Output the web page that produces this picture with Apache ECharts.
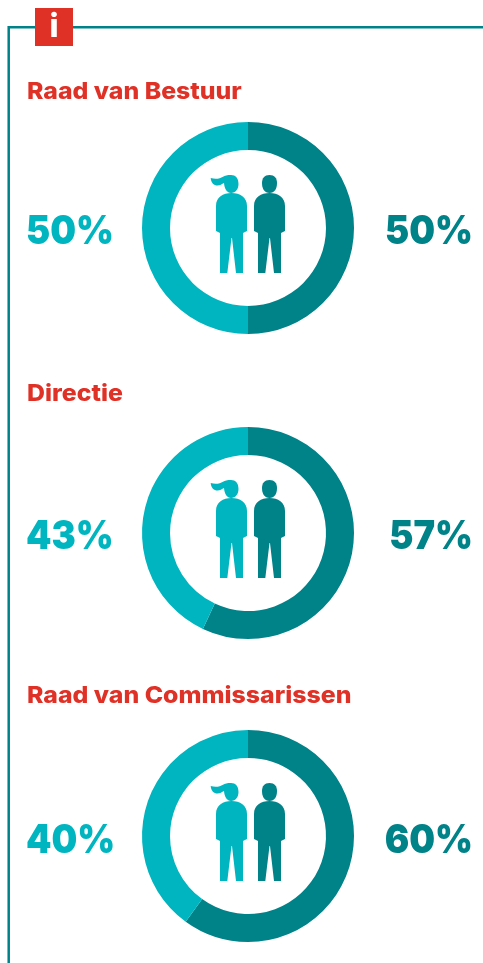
<!DOCTYPE html>
<html><head><meta charset="utf-8">
<style>html,body{margin:0;padding:0;background:#fff}#c{width:483px;height:963px}</style>
<script src="https://cdn.jsdelivr.net/npm/echarts@6/dist/echarts.min.js"></script>
</head><body><div id="c"></div>
<script>
const titles = ['Raad van Bestuur', 'Directie', 'Raad van Commissarissen'];
const women = [50, 43, 40];
const men = [50, 57, 60];
const LIGHT = '#00B5BF', DARK = '#008289', RED = '#E03127', FONT = 'Inter';
const cy = [228, 533, 836], titleY = [92, 394, 696], iconY = [175, 480, 783], pctY = [232.5, 537.5, 841];
const body = 'M0 56 L0 31 C0 22 7 18 15.5 18 C24 18 31 22 31 31 L31 56 L27 58 L27 98 L20 98 L16 63 L15.5 63 L11.3 98 L4 98 L4 58 Z';
const womanHead = 'M15 0 C11 0 9 .7 7 1.7 C4 3.5 0 4.5 -5.3 3 C-5 8 -2 10.5 1.5 10.5 C4 10.5 6 9 8 8 C8.5 14 11 17.9 15 17.9 C19.8 17.9 22.5 14 22.5 9 C22.5 3 19.5 0 15 0 Z';
const manHead = 'M15.5 0 C10.5 0 8 3 8 8 C8 14 10.5 17.9 15.5 17.9 C20.5 17.9 23 14 23 8 C23 3 20.5 0 15.5 0 Z';
echarts.graphic.registerShape('personBody', echarts.graphic.extendPath(body, {}));
echarts.graphic.registerShape('womanHead', echarts.graphic.extendPath(womanHead, {}));
echarts.graphic.registerShape('manHead', echarts.graphic.extendPath(manHead, {}));
const chart = echarts.init(document.getElementById('c'), null, {renderer: 'canvas'});
const series = [], graphic = [
  {type:'polyline', silent:true, shape:{points:[[8.7,963],[8.7,27.2],[483,27.2]]}, style:{stroke:DARK, lineWidth:2.5, fill:null}},
  {type:'rect', shape:{x:35,y:8,width:38,height:38}, style:{fill:RED}, z:5},
  {type:'text', x:54, y:27, z:6, style:{text:'i', fill:'#fff', font:'800 32px '+FONT, align:'center', verticalAlign:'middle'}}
];
titles.forEach((t,i)=>{
  series.push({type:'pie', silent:true, center:[248,cy[i]], radius:[78,106], startAngle:90, clockwise:true,
    label:{show:false}, labelLine:{show:false}, itemStyle:{borderWidth:0},
    data:[{name:'Mannen', value:men[i], itemStyle:{color:DARK}},{name:'Vrouwen', value:women[i], itemStyle:{color:LIGHT}}]});
  graphic.push({type:'text', x:27, y:titleY[i], scaleX:1.08, style:{text:t, fill:RED, font:'800 23px '+FONT, align:'left', verticalAlign:'middle'}});
  graphic.push({type:'text', x:26, y:pctY[i], scaleX:0.92, style:{text:women[i]+'%', fill:LIGHT, font:'900 39.5px '+FONT, align:'left', verticalAlign:'middle'}});
  graphic.push({type:'text', x:473, y:pctY[i], scaleX:0.92, style:{text:men[i]+'%', fill:DARK, font:'900 39.5px '+FONT, align:'right', verticalAlign:'middle'}});
  [[216,LIGHT,'womanHead'],[254,DARK,'manHead']].forEach(([x,c,h])=>{
    graphic.push({type:'personBody', x:x, y:iconY[i], style:{fill:c}});
    graphic.push({type:h, x:x, y:iconY[i], style:{fill:c}});
  });
});
chart.setOption({animation:false, series, graphic});
</script></body></html>
